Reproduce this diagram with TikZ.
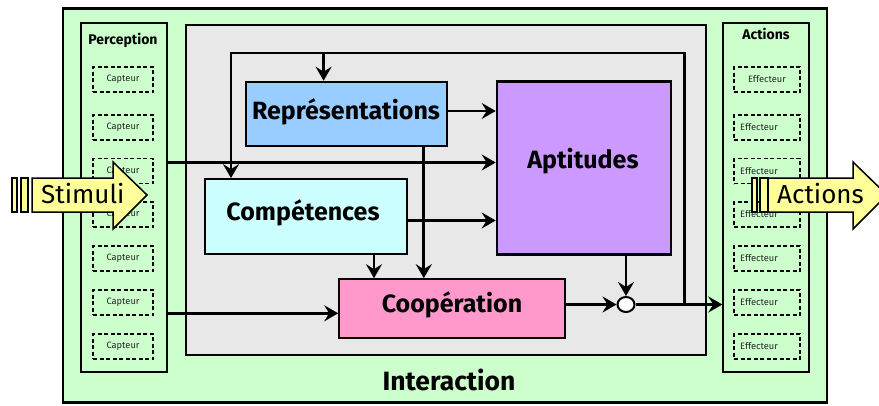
\documentclass[tikz,border=0pt]{standalone}
\usepackage{fontspec}
\setmainfont{Fira Sans}
\usetikzlibrary{arrows.meta,shapes.geometric}
\definecolor{outergreen}{HTML}{CCFFCC}
\definecolor{graybg}{HTML}{E8E8E8}
\definecolor{repblue}{HTML}{99CCFF}
\definecolor{aptviolet}{HTML}{CC99FF}
\definecolor{compcyan}{HTML}{CCFFFF}
\definecolor{cooppink}{HTML}{FF99CC}
\definecolor{arrowyellow}{HTML}{FFFF99}
\tikzset{
  box/.style={draw=black, line width=2.2pt, inner sep=0pt, rectangle},
  panel/.style={draw=black, line width=1.4pt, inner sep=0pt, rectangle, fill=outergreen},
  sensor/.style={draw=black, line width=1.6pt, dash pattern=on 4pt off 2.5pt, inner sep=0pt, minimum width=60pt, minimum height=25pt},
  sensortxt/.style={font=\fontsize{9.3}{11}\selectfont, text=black!85, inner sep=0pt},
  bigtxt/.style={font=\bfseries\fontsize{25}{28}\selectfont, inner sep=0pt},
  paneltitle/.style={font=\bfseries\fontsize{14}{16}\selectfont, inner sep=0pt},
  conn/.style={line width=2.9pt, -{Stealth[length=14pt,width=16pt,inset=5pt]}},
  blockarrow/.style={draw=black, line width=1.5pt, fill=arrowyellow, line join=miter},
  arrtxt/.style={font=\fontsize{26}{30}\selectfont, inner sep=0pt}
}
\begin{document}
\begin{tikzpicture}[x=1pt, y=-1pt]
\useasboundingbox (0,0) rectangle (879,405);
\clip (0,0) rectangle (879,405);
% outer box
\node[box, line width=2.4pt, fill=outergreen, minimum width=764pt, minimum height=394pt] (outer) at (445,205.5) {};
\node[bigtxt, font=\bfseries\fontsize{26.5}{30}\selectfont] (interaction) at (449,380) {Interaction};
% panels
\node[panel, minimum width=86pt, minimum height=349pt] (perc) at (124,197.5) {};
\node[paneltitle] (perctitle) at (123,40) {Perception};
\node[panel, minimum width=86pt, minimum height=349pt] (act) at (766,197.5) {};
\node[paneltitle] (acttitle) at (766,34) {Actions};
% sensors
\foreach \y [count=\i] in {79.5,127.5,171,214.5,258.5,302.5,346.5}{
  \node[sensor] (cap\i) at (123,\y) {};
  \node[sensortxt] (capt\i) at (123,\y) {Capteur};
  \node[sensor, minimum width=66pt] (eff\i) at (767,\y) {};
}
\node[sensortxt] (efft1) at (767,79.5) {Effecteur};
\foreach \y [count=\i from 2] in {127.5,171,214.5,258.5,302.5,346.5}{
  \node[sensortxt, anchor=west] (efft\i) at (740,\y) {Effecteur};
}
% gray box
\node[box, line width=2pt, fill=graybg, minimum width=520pt, minimum height=330pt] (gray) at (446,190) {};
% main boxes
\node[box, fill=repblue, minimum width=201pt, minimum height=64pt] (rep) at (346.8,113.8) {};
\node[bigtxt] (reptxt) at (346,111.5) {Représentations};
\node[box, fill=aptviolet, minimum width=174pt, minimum height=173pt] (apt) at (583.8,168) {};
\node[bigtxt] (apttxt) at (583,161.5) {Aptitudes};
\node[box, fill=compcyan, minimum width=202pt, minimum height=75pt] (comp) at (306,216.7) {};
\node[bigtxt] (comptxt) at (303,212.5) {Compétences};
\node[box, fill=cooppink, minimum width=226pt, minimum height=59pt] (coop) at (452.3,308.8) {};
\node[bigtxt] (cooptxt) at (452,304.5) {Coopération};
% junction
\node[ellipse, draw=black, line width=2pt, fill=white, minimum width=17pt, minimum height=15pt, inner sep=0pt] (junc) at (626,304.5) {};
% feedback coordinates
\coordinate (fbR) at (684.5,53);
\coordinate (fbL) at (231,53);
\coordinate (fbM) at (323.6,53);
% connectors
\draw[conn] (perc.east |- 0,162.5) -- (apt.west |- 0,162.5);
\draw[conn] (perc.east |- 0,313.3) -- (coop.west |- 0,313.3);
\draw[conn] (rep.east |- 0,111) -- (apt.west |- 0,111);
\draw[conn] (comp.east |- 0,220.5) -- (apt.west |- 0,220.5);
\draw[conn] (rep.south -| 423.8,0) -- (coop.north -| 423.8,0);
\draw[conn] (comp.south -| 374,0) -- (coop.north -| 374,0);
\draw[conn] (coop.east |- junc.west) -- (junc.west);
\draw[conn] (apt.south -| junc.north) -- (junc.north);
\draw[conn] (junc.east) -- (act.west |- junc.east);
\draw[conn, line join=miter] (fbR |- junc.east) -- (fbR) -- (fbL) -- (fbL |- comp.north);
\draw[conn] (fbM) -- (fbM |- rep.north);
% block arrows
\draw[blockarrow] (12,178) rectangle (17,212);
\draw[blockarrow] (21,178) rectangle (28,212);
\draw[blockarrow] (32,178) -- (113,178) -- (113,162) -- (147,195) -- (113,229) -- (113,212) -- (32,212) -- cycle;
\node[arrtxt, anchor=west] (stimuli) at (41,194) {Stimuli};
\draw[blockarrow] (752,178) rectangle (757,212);
\draw[blockarrow] (760,178) rectangle (768,212);
\draw[blockarrow] (768,178) -- (853,178) -- (853,162) -- (887,195) -- (853,229) -- (853,212) -- (768,212) -- cycle;
\node[arrtxt, anchor=west] (actions) at (777,194) {Actions};
\end{tikzpicture}
\end{document}
